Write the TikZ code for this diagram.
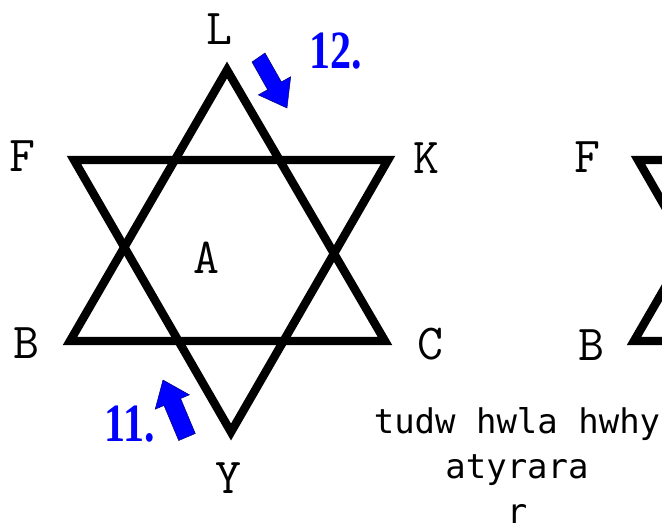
\documentclass[tikz,border=0pt]{standalone}
\usepackage{fontspec}
\usepackage{graphicx}
\newfontfamily\stepNumberFont{Liberation Serif}
\newfontfamily\noteFont{DejaVu Sans Mono}
\definecolor{starLine}{RGB}{0,0,0}
\definecolor{stepArrow}{RGB}{0,0,255}
\definecolor{stepArrowEdge}{RGB}{0,0,110}
\definecolor{noteText}{RGB}{0,0,0}

\begin{document}
\begin{tikzpicture}[x=.03cm,y=-.03cm,
      corner/.style={font=\fontsize{43}{43}\selectfont\ttfamily,
        inner sep=0pt},
      stepnum/.style={font=\fontsize{46}{46}\selectfont\stepNumberFont\bfseries,
        text=stepArrow, inner sep=0pt},
      note/.style={font=\fontsize{29}{38.3}\selectfont\noteFont,
        text=noteText, align=center, inner sep=0pt, anchor=base},
      starline/.style={draw=starLine, line width=7.2pt, line join=miter},
      blockarrow/.style={fill=stepArrow, draw=stepArrowEdge, line width=.4pt}]
      \useasboundingbox (0,0) rectangle (662,523);
      \clip (0,0) rectangle (662,523);

      \coordinate (upTop) at (227,70);
      \coordinate (upLeft) at (70,341);
      \coordinate (upRight) at (385,341);
      \coordinate (downLeft) at (74,160);
      \coordinate (downRight) at (388,160);
      \coordinate (downBottom) at (231,432);
      \draw[starline] (upTop) -- (upLeft) -- (upRight) -- cycle;
      \draw[starline] (downLeft) -- (downRight) -- (downBottom) -- cycle;

      \node[corner] (labelL) at (219,29) {L};
      \node[corner] (labelF) at (22,156) {F};
      \node[corner] (labelK) at (426,158) {K};
      \node[corner] (labelB) at (26,343) {B};
      \node[corner] (labelC) at (430,344) {C};
      \node[corner] (labelY) at (228,478) {Y};
      \node[corner] (labelA) at (206,258) {A};

      \begin{scope}[shift={(564,0)}]
        \coordinate (upTopR) at (227,70);
        \coordinate (upLeftR) at (70,341);
        \coordinate (upRightR) at (385,341);
        \coordinate (downLeftR) at (74,160);
        \coordinate (downRightR) at (388,160);
        \coordinate (downBottomR) at (231,432);
        \draw[starline] (upTopR) -- (upLeftR) -- (upRightR) -- cycle;
        \draw[starline] (downLeftR) -- (downRightR) -- (downBottomR) -- cycle;
      \end{scope}
      \node[corner] (labelFR) at (587,157) {F};
      \node[corner] (labelBR) at (591,345) {B};

      \path[blockarrow] (265,53) -- (281.4,81.9) -- (290.7,76.7) -- (287,108)
        -- (258.3,94.9) -- (267.6,89.7) -- (252,62) -- cycle;
      \node[stepnum] (step12) at (336,51) {\scalebox{.78}[1]{12.}};

      \path[blockarrow] (195.3,433.5) -- (180.6,398.5) -- (189.4,394.8)
        -- (163,380) -- (155.2,409.2) -- (164,405.5) -- (178.7,440.5) -- cycle;
      \node[stepnum] (step11) at (130,424) {\scalebox{.78}[1]{11.}};

      \node[note] (translit) at (517,523) {tudw hwla hwhy\\atyrara\\r};
    \end{tikzpicture}
\end{document}
